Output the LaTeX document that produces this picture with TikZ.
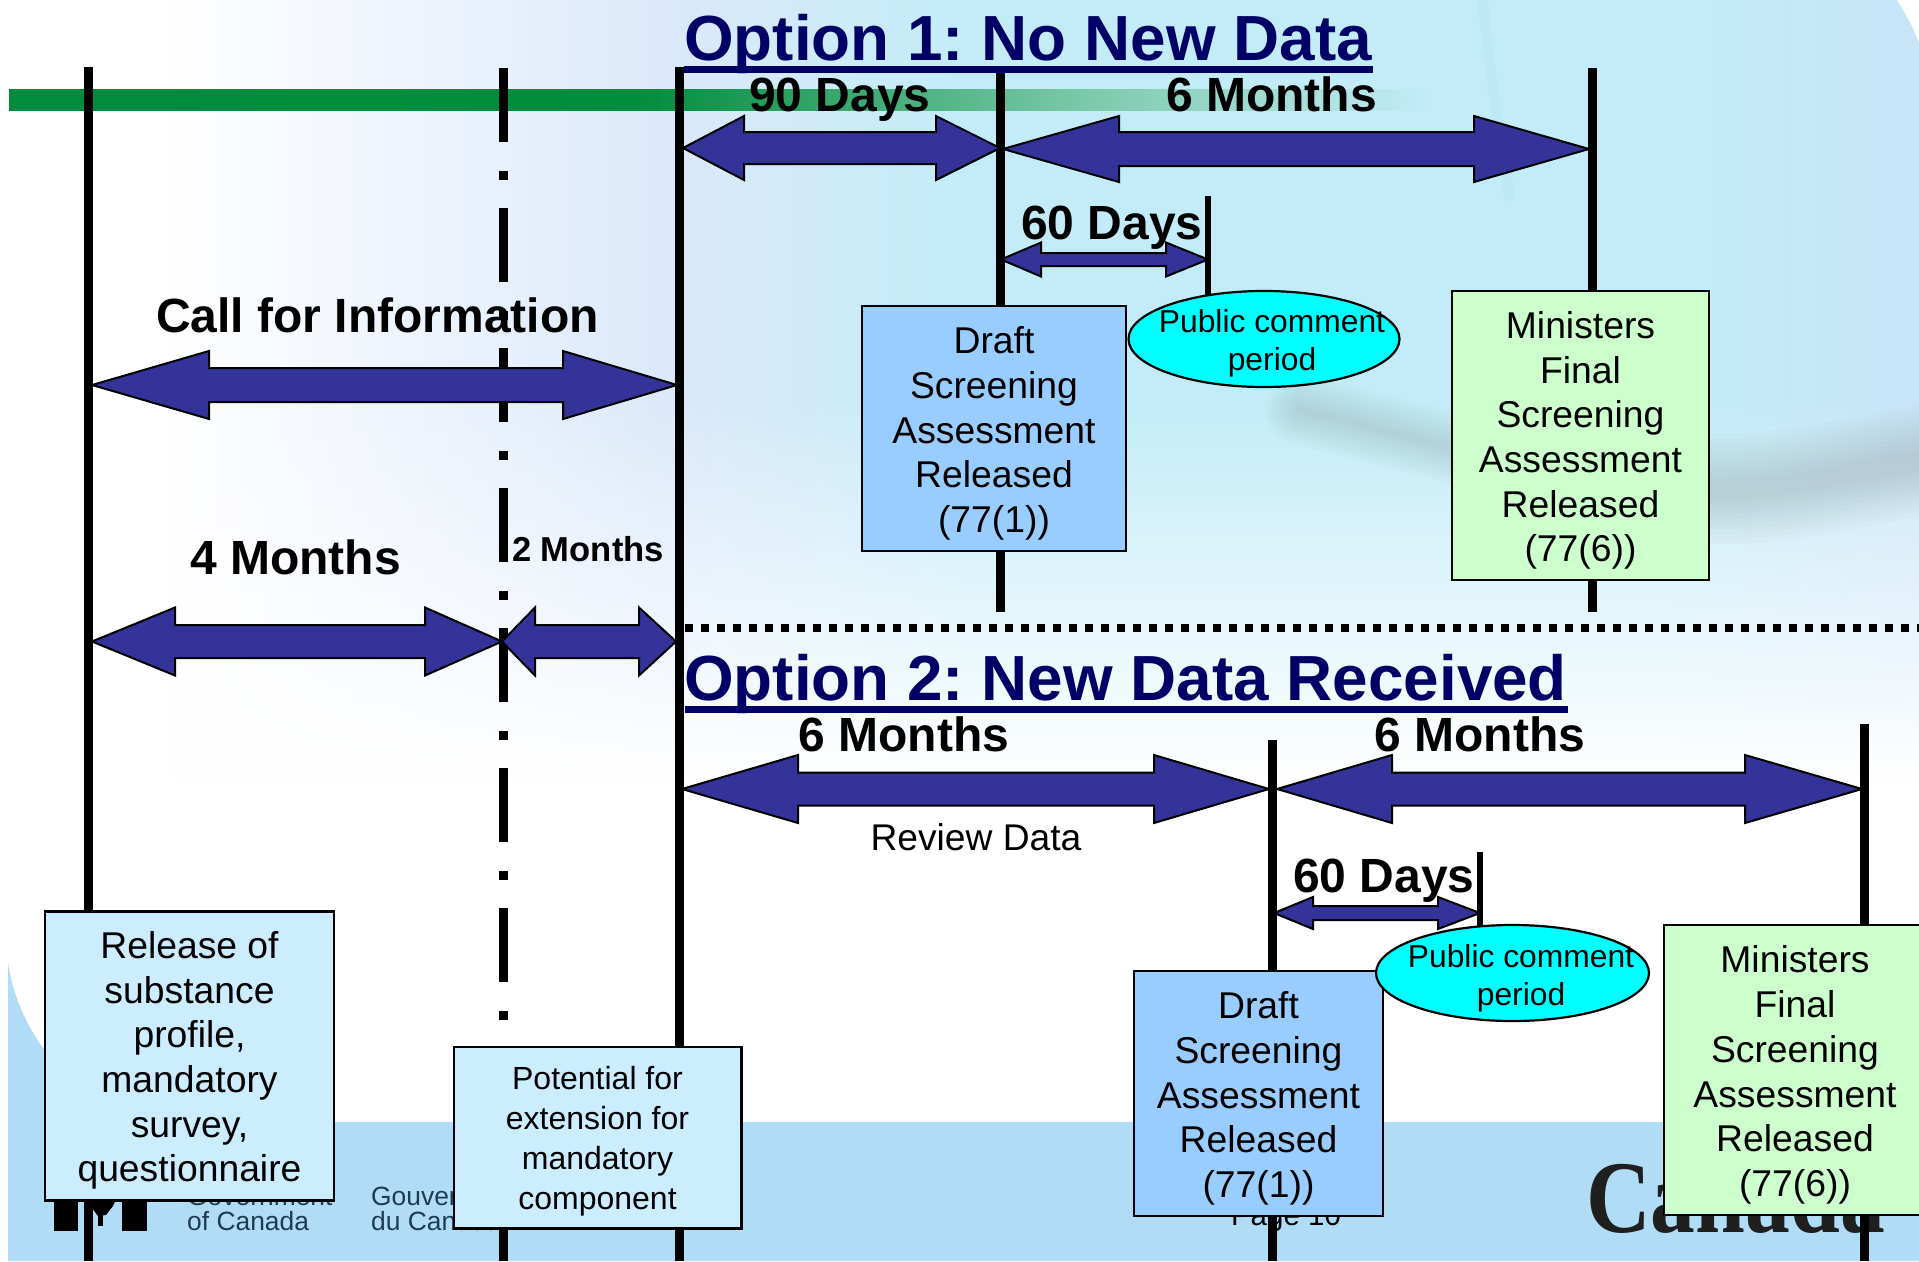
\documentclass[tikz,border=0pt]{standalone}
\usepackage{fontspec}
\setmainfont{Liberation Sans}
\newfontfamily\serifcan{Liberation Serif}
\usetikzlibrary{shapes.geometric,fadings}
\definecolor{navytitle}{HTML}{000066}
\definecolor{arrowblue}{HTML}{333399}
\definecolor{boxblue}{HTML}{99CCFF}
\definecolor{boxpale}{HTML}{CCECFF}
\definecolor{boxgreen}{HTML}{CCFFCC}
\definecolor{ellcyan}{HTML}{00FFFF}
\definecolor{barblue}{HTML}{B0DDF5}
\definecolor{bggreen}{HTML}{008C3C}
\definecolor{bgA}{HTML}{DCE9FA}
\definecolor{bgB}{HTML}{C3ECF8}
\definecolor{bgC}{HTML}{C8E4F8}
\definecolor{barmid}{HTML}{7FCBAE}
\definecolor{swoosh}{HTML}{7F8F8F}
\definecolor{streak}{HTML}{9FD8E4}
\definecolor{logotext}{HTML}{1F3B50}
\pgfdeclarehorizontalshading{bgshade}{100bp}{color(0bp)=(white); color(29bp)=(white); color(42bp)=(bgA); color(50bp)=(bgB); color(68bp)=(bgB); color(75bp)=(bgC); color(100bp)=(bgC)}
\pgfdeclarehorizontalshading{barshade}{100bp}{color(0bp)=(bggreen); color(47bp)=(bggreen); color(63.4bp)=(barmid); color(75bp)=(bgB); color(100bp)=(bgB)}
\tikzfading[name=fadedown, top color=transparent!0, bottom color=transparent!100]
\tikzset{
  blockarrow/.style={fill=arrowblue,draw=black,line width=2pt,line join=miter,miter limit=3},
  mark line/.style={line width=9pt,black},
  thin mark/.style={line width=6pt,black},
  dash line/.style={line width=9pt,black,dash pattern=on 74pt off 29pt on 9pt off 28pt},
  dot line/.style={line width=8pt,black,dash pattern=on 8pt off 8pt},
  title rule/.style={line width=7pt,navytitle},
  titletext/.style={anchor=base,font=\fontsize{63.8}{70}\selectfont\bfseries,text=navytitle,inner sep=0pt},
  spanlabel/.style={anchor=base,font=\fontsize{48}{54}\selectfont\bfseries,inner sep=0pt},
  smalllabel/.style={anchor=base,font=\fontsize{34.6}{40}\selectfont\bfseries,inner sep=0pt},
  plainlabel/.style={anchor=base,font=\fontsize{37.2}{44}\selectfont,inner sep=0pt},
  stepbox/.style={draw=black,line width=2.5pt,rectangle,inner sep=0pt},
  stepbody/.style={align=center,inner sep=0pt,font=\fontsize{37.3}{44.7}\selectfont},
  smallbody/.style={align=center,inner sep=0pt,font=\fontsize{32}{40}\selectfont},
  ellipsebox/.style={draw=black,line width=2.2pt,fill=ellcyan,ellipse,inner sep=0pt},
  ellipsetext/.style={align=center,inner sep=0pt,font=\fontsize{31.8}{38}\selectfont},
  logo/.style={anchor=base west,inner sep=0pt,text=logotext,font=\fontsize{26.4}{30}\selectfont}
}
% x1 x2 yc headhalf shafthalf base1 base2
\newcommand{\blockarr}[7]{\draw[blockarrow] (#1,#3) -- (#6,#3-#4) -- (#6,#3-#5) -- (#7,#3-#5) -- (#7,#3-#4) -- (#2,#3) -- (#7,#3+#4) -- (#7,#3+#5) -- (#6,#3+#5) -- (#6,#3+#4) -- cycle;}
\begin{document}
\frenchspacing
\begin{tikzpicture}[x=1pt,y=-1pt]
\useasboundingbox (0,0) rectangle (1919,1261);
\clip (0,0) rectangle (1919,1261);
% ---------- slide background
\fill[white] (0,0) rectangle (1919,1261);
\shade[shading=bgshade] (8,0) rectangle (1930,400.5);
\shade[shading=bgshade,path fading=fadedown] (8,400) rectangle (1930,780);
% white corner, top right
\fill[white] (1897,0) .. controls (1906,14) and (1914,28) .. (1919,44) -- (1919,0) -- cycle;
% grey swoosh: left tail, then the wide body
\foreach \w in {70,62,54,46,38,30,22,14,8}{
  \draw[swoosh,line width=\w pt,opacity=.032,line cap=round] (1300,410) .. controls (1390,430) and (1480,460) .. (1590,476);
}
\foreach \w in {110,100,90,80,70,60,50,40,30,20}{
  \draw[swoosh,line width=\w pt,opacity=.032,line cap=round] (1590,476) .. controls (1640,484) and (1690,490) .. (1730,489) .. controls (1800,487) and (1860,470) .. (1980,450);
}
% light streak
\draw[streak,line width=10pt,opacity=.14] (1483,0) .. controls (1488,60) and (1497,120) .. (1510,200);
% bottom band
\fill[barblue] (8,963) .. controls (18,1030) and (70,1110) .. (170,1122) -- (1919,1122) -- (1919,1261) -- (8,1261) -- cycle;
% ---------- green bar
\shade[shading=barshade] (9,89) rectangle (1430,110);
% ---------- footer of the slide
\fill[black] (54,1195) rectangle (78,1231);
\fill[black] (122,1195) rectangle (147,1231);
\fill[black] (98,1215) rectangle (103,1226);
\fill[black] (90,1195) -- (118,1195) -- (113,1206) -- (106,1215) -- (98,1216) -- (92,1208) -- cycle;
\node[logo] (govEn) at (187,1205) {Government};
\node[logo] (ofCan) at (187,1230) {of Canada};
\node[logo] (govFr) at (371,1205) {Gouvernement};
\node[logo] (duCan) at (371,1230) {du Canada};
\node[anchor=base,inner sep=0pt,font=\fontsize{29.5}{32}\selectfont] (pageno) at (1286,1225) {Page 10};
\node[anchor=base west,inner sep=0pt,text=black!88,xscale=.87,font=\fontsize{103}{110}\selectfont\bfseries\serifcan] (wordmark) at (1586,1232) {Canada};
% ---------- timeline coordinates
\coordinate (t1) at (88,67);     \coordinate (b1) at (88,1261);
\coordinate (t2) at (503.5,68);  \coordinate (b2) at (503.5,1261);
\coordinate (t3) at (679.5,67);  \coordinate (b3) at (679.5,1261);
\coordinate (t4) at (1000,68);   \coordinate (b4) at (1000,612);
\coordinate (t5) at (1592,68);   \coordinate (b5) at (1592,612);
\coordinate (t6) at (1208,196);  \coordinate (b6) at (1208,300);
\coordinate (t7) at (1272,740);  \coordinate (b7) at (1272,1261);
\coordinate (t8) at (1864,724);  \coordinate (b8) at (1864,1261);
\coordinate (t9) at (1480,852);  \coordinate (b9) at (1480,935);
\draw[mark line] (t1) -- (b1);
\draw[dash line] (t2) -- (b2);
\draw[mark line] (t3) -- (b3);
\draw[mark line] (t4) -- (b4);
\draw[mark line] (t5) -- (b5);
\draw[thin mark] (t6) -- (b6);
\draw[mark line] (t7) -- (b7);
\draw[mark line] (t8) -- (b8);
\draw[thin mark] (t9) -- (b9);
% ---------- dotted separator
\coordinate (dotA) at (685,628); \coordinate (dotB) at (1925,628);
\draw[dot line] (dotA) -- (dotB);
% ---------- titles
\node[titletext,anchor=base west] (title1) at (684,60) {Option 1: No New Data};
\node[titletext,anchor=base west] (title2) at (684,700) {Option 2: New Data Received};
\coordinate (ruleA1) at (684,69.5); \coordinate (ruleB1) at (1373,69.5);
\coordinate (ruleA2) at (685,709.5); \coordinate (ruleB2) at (1568,709.5);
\draw[title rule] (ruleA1) -- (ruleB1);
\draw[title rule] (ruleA2) -- (ruleB2);
% ---------- block arrows
\blockarr{683}{1000}{148}{32}{16}{744}{936}
\blockarr{1003}{1589}{149}{33}{17}{1119}{1474}
\blockarr{1001}{1208}{259.5}{17}{6.5}{1041}{1166}
\blockarr{92}{677}{385}{34}{17}{209}{563}
\blockarr{92}{502}{641.5}{34}{16.5}{175}{425}
\blockarr{502}{676}{641.5}{34}{16.5}{535}{639}
\blockarr{682}{1269}{789}{34}{16.5}{798}{1154}
\blockarr{1277}{1862}{789}{34}{16.5}{1392}{1745}
\blockarr{1274}{1480}{913}{16}{7}{1313}{1438}
% ---------- labels
\node[spanlabel] (l90) at (840,111) {90 Days};
\node[spanlabel] (l6a) at (1271.5,111) {6 Months};
\node[spanlabel] (l60a) at (1112,239.5) {60 Days};
\node[spanlabel] (lcall) at (377.5,332) {Call for Information};
\node[spanlabel] (l4m) at (295.5,574) {4 Months};
\node[smalllabel] (l2m) at (588,561) {2 Months};
\node[spanlabel] (l6b) at (904,751.5) {6 Months};
\node[spanlabel] (l6c) at (1480,751.5) {6 Months};
\node[spanlabel] (l60b) at (1384,892.5) {60 Days};
\node[plainlabel] (lrev) at (976,850.5) {Review Data};
% ---------- boxes
\node[stepbox,fill=boxblue,minimum width=264pt,minimum height=245pt] (draftA) at (994,428.5) {};
\node[stepbody] (draftAt) at ([yshift=-5pt]draftA.center) {Draft\\Screening\\Assessment\\Released\\(77(1))};
\node[stepbox,fill=boxgreen,minimum width=257pt,minimum height=289pt] (finalA) at (1580.5,435.5) {};
\node[stepbody] (finalAt) at ([yshift=-5pt]finalA.center) {Ministers\\Final\\Screening\\Assessment\\Released\\(77(6))};
\node[stepbox,fill=boxpale,minimum width=289pt,minimum height=289pt] (release) at (189.5,1056) {};
\node[stepbody] (releaset) at ([yshift=-4.5pt]release.center) {Release of\\substance\\profile,\\mandatory\\survey,\\questionnaire};
\node[stepbox,fill=boxpale,minimum width=287.5pt,minimum height=181.5pt] (extend) at (597.5,1137.5) {};
\node[smallbody] (extendt) at ([yshift=-3.5pt]extend.center) {Potential for\\extension for\\mandatory\\component};
\node[stepbox,fill=boxblue,minimum width=249pt,minimum height=245pt] (draftB) at (1258.5,1093.5) {};
\node[stepbody] (draftBt) at ([yshift=-5pt]draftB.center) {Draft\\Screening\\Assessment\\Released\\(77(1))};
\node[stepbox,fill=boxgreen,minimum width=262pt,minimum height=290pt] (finalB) at (1795,1070) {};
\node[stepbody] (finalBt) at ([yshift=-5pt]finalB.center) {Ministers\\Final\\Screening\\Assessment\\Released\\(77(6))};
% ---------- ellipses
\node[ellipsebox,minimum width=271pt,minimum height=96pt] (ellA) at (1264,339) {};
\node[ellipsetext] (ellAt) at (1272,343) {Public comment\\period};
\node[ellipsebox,minimum width=273pt,minimum height=96pt] (ellB) at (1512.5,973) {};
\node[ellipsetext] (ellBt) at (1521,978) {Public comment\\period};
\end{tikzpicture}
\end{document}
